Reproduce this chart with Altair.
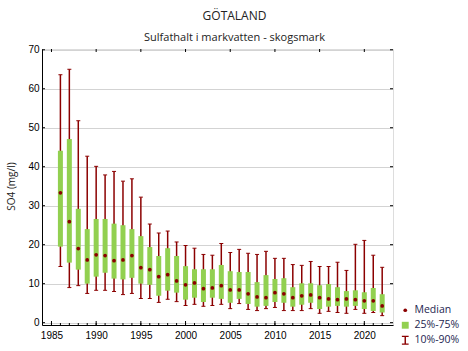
import altair as alt
import pandas as pd

years = list(range(1986, 2023))
p90 = [63.6, 65.0, 51.8, 42.7, 40.1, 37.9, 38.8, 36.3, 36.9, 32.2,
       25.3, 23.0, 23.5, 20.7, 19.8, 19.1, 17.5, 17.3, 20.3, 18.0,
       18.8, 17.8, 17.5, 18.3, 16.5, 16.5, 14.9, 14.7, 15.7, 14.4,
       14.4, 15.5, 13.4, 20.1, 21.1, 17.3, 14.2]
q75 = [44.1, 47.1, 29.2, 24.0, 26.6, 26.6, 25.4, 25.0, 24.0, 22.2,
       19.4, 17.1, 19.1, 17.1, 14.5, 13.7, 13.7, 13.7, 14.8, 13.2,
       13.0, 13.0, 10.4, 12.2, 11.2, 11.4, 9.1, 10.1, 10.1, 9.6,
       9.9, 9.1, 8.1, 8.3, 7.8, 8.9, 7.3]
median = [33.3, 25.9, 19.0, 16.1, 17.4, 17.2, 15.9, 16.1, 17.2, 14.1,
          13.6, 11.8, 12.3, 10.7, 9.7, 10.2, 8.7, 8.9, 9.5, 8.4,
          8.4, 7.4, 6.6, 6.4, 7.7, 7.4, 6.4, 6.9, 7.1, 6.4,
          6.1, 5.9, 6.1, 5.9, 5.6, 5.6, 4.3]
q25 = [19.5, 15.4, 13.6, 10.0, 11.8, 12.8, 11.3, 11.1, 11.5, 10.0,
       9.7, 6.9, 8.2, 7.7, 5.9, 6.4, 5.3, 6.4, 6.1, 5.1,
       6.1, 4.8, 4.1, 4.3, 5.3, 5.1, 4.1, 4.6, 5.1, 3.5,
       4.1, 4.3, 4.1, 4.3, 3.5, 3.0, 2.6]
p10 = [14.4, 9.0, 9.5, 7.5, 8.3, 8.3, 8.0, 7.2, 7.5, 6.2,
       6.2, 5.2, 6.0, 5.4, 4.4, 4.7, 4.2, 4.4, 4.7, 3.6,
       4.9, 3.4, 3.1, 3.6, 3.9, 3.1, 3.1, 3.1, 3.6, 2.4,
       2.9, 2.6, 2.4, 3.4, 2.4, 2.6, 1.8]

x_major = [1985, 1990, 1995, 2000, 2005, 2010, 2015, 2020]
x_minor = list(range(1985, 2023))
y_values = [0, 10, 20, 30, 40, 50, 60, 70]
legend_labels = ["Median", "25%-75%", "10%-90%"]

FONT = "Open Sans"
DARKRED = "#8B0000"
GREEN = "#92D050"
TEXT = "#222222"
W, H = 351, 276

df = pd.DataFrame(dict(year=years, p90=p90, q75=q75, median=median, q25=q25, p10=p10))
minor_df = pd.DataFrame({"year": x_minor})
major_df = pd.DataFrame({"year": x_major})
ytick_df = pd.DataFrame({"v": y_values})
leg_df = pd.DataFrame({"s": legend_labels})

xs = alt.Scale(domain=[1984.5, 2022.65], nice=False, zero=False)
ys = alt.Scale(domain=[-0.6, 70.2], nice=False, zero=False)

x_axis = alt.Axis(values=x_major, format="d", title=None, ticks=False, tickSize=0,
                  labelPadding=5, grid=False, domainColor="black")
y_axis = alt.Axis(values=y_values, title="SO4 (mg/l)", ticks=False, tickSize=0,
                  labelPadding=3, grid=True, gridColor="#D3D3D3", domainColor="black",
                  titleX=-31, titleY=137, titleBaseline="middle", titleAngle=270,
                  titleFontWeight="normal", titleFontSize=10, titleFont=FONT, titleColor=TEXT)

X = alt.X("year:Q", scale=xs, axis=x_axis)
base = alt.Chart(df)

whisk = base.mark_rule(color=DARKRED, strokeWidth=1.5).encode(
    x=X, y=alt.Y("p10:Q", scale=ys, axis=y_axis), y2="p90:Q")
cap_hi = base.mark_tick(orient="horizontal", color=DARKRED, thickness=1, size=4, opacity=1).encode(
    x=X, y=alt.Y("p90:Q", scale=ys, axis=y_axis))
cap_lo = base.mark_tick(orient="horizontal", color=DARKRED, thickness=1, size=4, opacity=1).encode(
    x=X, y=alt.Y("p10:Q", scale=ys, axis=y_axis))
box = base.mark_bar(color=GREEN, size=5).encode(
    x=X, y=alt.Y("q25:Q", scale=ys, axis=y_axis), y2="q75:Q")
med = base.mark_point(shape="circle", filled=True, color=DARKRED, size=14, opacity=1).encode(
    x=X, y=alt.Y("median:Q", scale=ys, axis=y_axis))

# inward tick marks on the frame
t_minor = alt.Chart(minor_df).mark_rule(color="black", strokeWidth=1).encode(
    x=X, y=alt.value(H), y2=alt.value(H - 2))
t_major = alt.Chart(major_df).mark_rule(color="black", strokeWidth=1).encode(
    x=X, y=alt.value(H), y2=alt.value(H - 4))
t_top = alt.Chart(major_df).mark_rule(color="black", strokeWidth=1).encode(
    x=X, y=alt.value(0), y2=alt.value(3))
t_left = alt.Chart(ytick_df).mark_rule(color="black", strokeWidth=1).encode(
    y=alt.Y("v:Q", scale=ys, axis=y_axis), x=alt.value(0), x2=alt.value(3))
t_right = alt.Chart(ytick_df).mark_rule(color="black", strokeWidth=1).encode(
    y=alt.Y("v:Q", scale=ys, axis=y_axis), x=alt.value(W), x2=alt.value(W - 3))

ibeam = "M-0.75,-1H0.75V-0.72H0.16V0.72H0.75V1H-0.75V0.72H-0.16V-0.72H-0.75Z"
leg = alt.Legend(title=None, orient="none", legendX=358, legendY=256,
                 labelFont=FONT, labelFontSize=10.5, labelColor="#1e1e50",
                 labelOffset=4, rowPadding=4, symbolStrokeWidth=0, padding=0)
legend_layer = alt.Chart(leg_df).transform_filter("false").mark_point(filled=True, opacity=1).encode(
    color=alt.Color("s:N", scale=alt.Scale(domain=legend_labels, range=[DARKRED, GREEN, DARKRED]), legend=leg),
    shape=alt.Shape("s:N", scale=alt.Scale(domain=legend_labels, range=["circle", "square", ibeam]), legend=leg),
    size=alt.Size("s:N", scale=alt.Scale(domain=legend_labels, range=[14, 81, 81]), legend=leg),
)

chart = alt.layer(
    whisk, cap_hi, cap_lo, box, med, t_minor, t_major, t_top, t_left, t_right, legend_layer
).properties(
    width=W, height=H,
    autosize=alt.AutoSizeParams(type="none"),
    padding={"left": 42, "top": 49, "right": 75, "bottom": 26},
    title=alt.TitleParams(
        text="GÖTALAND", subtitle="Sulfathalt i markvatten - skogsmark",
        anchor="middle", dx=17, offset=1, font=FONT, fontSize=12, fontWeight="normal",
        color=TEXT, subtitleFont=FONT, subtitleFontSize=11, subtitleColor=TEXT,
        subtitlePadding=9),
).configure_view(stroke="black", strokeWidth=1).configure_axis(
    labelFont=FONT, labelFontSize=10, labelColor=TEXT, titleFont=FONT,
    titleFontSize=10, titleColor=TEXT, titleFontWeight="normal", domainWidth=1,
).configure(background="white")

chart.save("out.html", embed_options={"renderer": "svg", "actions": False})
